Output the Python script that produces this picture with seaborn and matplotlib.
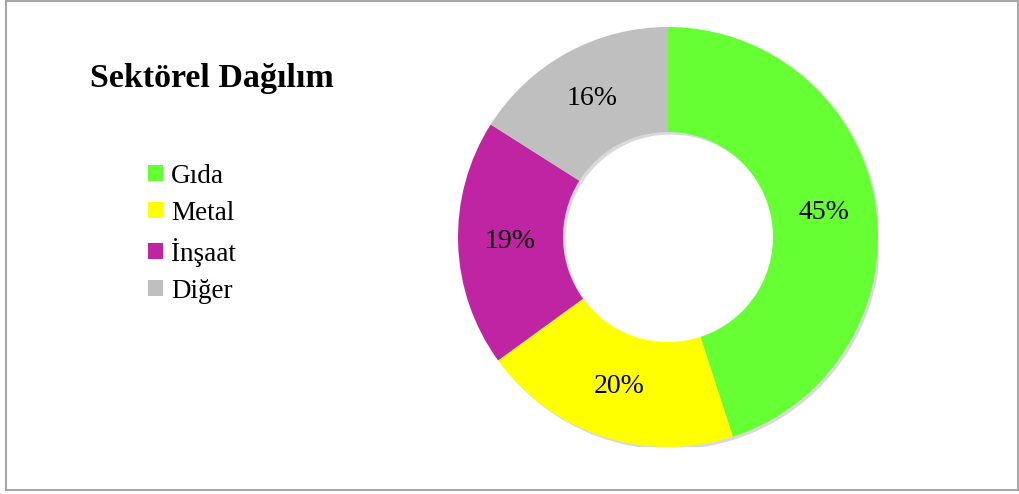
import matplotlib
matplotlib.use("Agg")
import matplotlib.pyplot as plt
from matplotlib.patches import Rectangle, Patch, Wedge
import seaborn as sns

# veriler
sektorler = ["Gıda", "Metal", "İnşaat", "Diğer"]
paylar = [45, 20, 19, 16]
renkler = ["#66ff33", "#ffff00", "#bf24a3", "#bfbfbf"]
baslik = "Sektörel Dağılım"

sns.set_style("white")
plt.rcParams['font.family'] = ['Liberation Serif', 'DejaVu Serif']
plt.rcParams['text.color'] = 'black'

fig = plt.figure(figsize=(10.2, 4.94), dpi=100)

# çerçeve
fig.patches.append(Rectangle((6 / 1020, 4 / 494), 1012 / 1020, 489 / 494,
                             transform=fig.transFigure, fill=False,
                             edgecolor="#a6a6a6", linewidth=1.5))

# halka grafik
ax = fig.add_axes([458 / 1020, (494 - 237 - 210) / 494, 420 / 1020, 420 / 494])

# hafif gölge
ax.add_patch(Wedge((0.012, -0.012), 1.0, 0, 360, width=0.5,
                   facecolor='#d9d9d9', edgecolor='none', zorder=0))

wedges, texts, autotexts = ax.pie(
    paylar, colors=renkler, startangle=90, counterclock=False,
    radius=1, autopct='%1.0f%%', pctdistance=0.75,
    wedgeprops=dict(width=0.5, edgecolor='none', zorder=1),
    textprops=dict(fontsize=20, color='black'))
ax.set_xlim(-1.0, 1.0)
ax.set_ylim(-1.0, 1.0)
ax.set_aspect('equal')
ax.axis('off')

# başlık
fig.text(90 / 1020, 1 - 78 / 494, baslik, fontsize=24.5, fontweight='bold',
         ha='left', va='center', color='black')

# lejant
handles = [Patch(facecolor=c, edgecolor='none') for c in renkler]
leg = fig.legend(handles, sektorler, loc='upper left',
                 bbox_to_anchor=(137 / 1020, 1 - 153 / 494), frameon=False,
                 fontsize=19.5, handlelength=0.55, handleheight=0.55,
                 handletextpad=0.3, labelspacing=0.44, borderaxespad=0)
for t in leg.get_texts():
    t.set_color('black')

fig.savefig("out.png", dpi=100)
